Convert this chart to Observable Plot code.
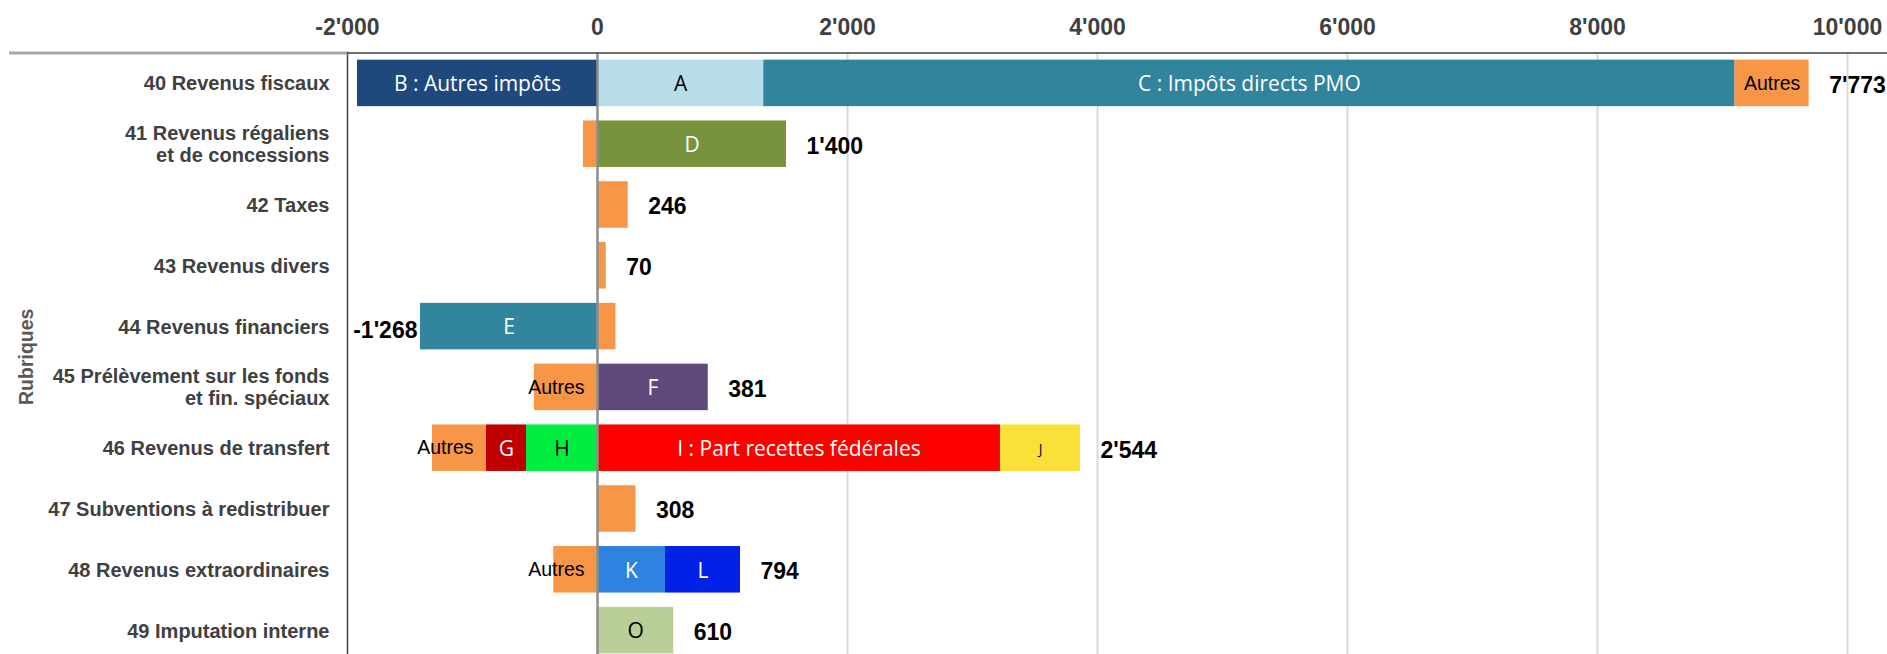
<!DOCTYPE html>
<html>
<head>
<meta charset="utf-8">
<script src="https://cdn.jsdelivr.net/npm/d3@7"></script>
<script src="https://cdn.jsdelivr.net/npm/@observablehq/plot@0.6"></script>
<style>
  html, body { margin: 0; padding: 0; background: #fff; overflow: hidden; }
</style>
</head>
<body>
<div id="chart"></div>
<script>
// ---- Data ----
const rubriques = ["40","41","42","43","44","45","46","47","48","49"];
const rubriqueLabels = [
  "40 Revenus fiscaux",
  "41 Revenus régaliens\net de concessions",
  "42 Taxes",
  "43 Revenus divers",
  "44 Revenus financiers",
  "45 Prélèvement sur les fonds\net fin. spéciaux",
  "46 Revenus de transfert",
  "47 Subventions à redistribuer",
  "48 Revenus extraordinaires",
  "49 Imputation interne"
];
const xTicks = [-2000, 0, 2000, 4000, 6000, 8000, 10000];

const segRubrique = ["40","40","40","40","41","41","42","43","44","44","45","45","46","46","46","46","46","47","48","48","48","49"];
const segKey      = ["B","A","C","Autres","Autres","D","Autres","Autres","E","Autres","Autres","F","H","G","Autres","I","J","Autres","Autres","K","L","O"];
const segValue    = [-1920,1330,7770,593,-112,1512,246,70,-1416,148,-505,886,-568,-320,-432,3224,640,308,-350,544,600,610];
const segLabel    = ["B : Autres impôts","A","C : Impôts directs PMO","Autres","","D","","","E","","Autres","F","H","G","Autres","I : Part recettes fédérales","J","","Autres","K","L","O"];

// ---- Styles ----
const keyColor = {
  B: "#1F497D", A: "#B7DDE8", C: "#31849B", Autres: "#F79646", D: "#77933C",
  E: "#31859C", F: "#604A7B", G: "#C00000", H: "#00EE3F", I: "#FF0000",
  J: "#FBE03A", K: "#2E83E0", L: "#0022E6", O: "#B9CF97"
};
const whiteText = new Set(["B","C","D","E","F","G","I","K","L"]);

// ---- Tables ----
const segs = segKey.map((k, i) => ({rub: segRubrique[i], key: k, value: segValue[i], label: segLabel[i]}));
const totals = rubriques.map(r => {
  const s = segs.filter(d => d.rub === r);
  const pos = d3.sum(s, d => d.value > 0 ? d.value : 0);
  const neg = d3.sum(s, d => d.value < 0 ? d.value : 0);
  const total = d3.sum(s, d => d.value);
  return {rub: r, pos, neg, total};
});

const loc = d3.formatLocale({decimal: ".", thousands: "'", grouping: [3], currency: ["", ""], minus: "-"});
const fmt = loc.format(",d");
const labelOf = Object.fromEntries(rubriques.map((r, i) => [r, rubriqueLabels[i]]));

const W = 1887, H = 654;
const chart = Plot.plot({
  width: W,
  height: H,
  marginLeft: 347,
  marginRight: 0,
  marginTop: 52.5,
  marginBottom: 0,
  style: {fontFamily: "'Liberation Sans', Arial, sans-serif", background: "#fff", overflow: "visible"},
  x: {domain: [-2000, 10320]},
  y: {domain: rubriques, range: [52.5, 660.5], paddingInner: 0.235, paddingOuter: 0.1175, round: false},
  color: {type: "identity"},
  marks: [
    Plot.ruleX(xTicks.filter(t => t > 0), {stroke: "#D9D9D9", strokeWidth: 2}),
    Plot.barX(segs, Plot.stackX({x: "value", y: "rub", fill: d => keyColor[d.key], order: null})),
    Plot.ruleX([0], {stroke: "#8C8C8C", strokeWidth: 2.5}),
    Plot.ruleX([-2000], {stroke: "#404040", strokeWidth: 1.5}),
    Plot.frame({anchor: "top", stroke: "#A6A6A6", strokeWidth: 3, insetLeft: -337, insetRight: W - 347}),
    Plot.frame({anchor: "top", stroke: "#404040", strokeWidth: 1.5}),
    // letter labels inside bars
    Plot.text(segs, Plot.stackX({
      x: "value", y: "rub", order: null, dy: 1,
      text: d => d.key === "Autres" ? "" : d.label,
      fill: d => whiteText.has(d.key) ? "#ffffff" : "#000000",
      fontSize: d => d.key === "J" ? 14 : 21,
      fontFamily: "'Open Sans', sans-serif"
    })),
    // "Autres" centred (positive)
    Plot.text(segs, Plot.stackX({
      x: "value", y: "rub", order: null,
      text: d => d.key === "Autres" && d.value > 0 ? d.label : "",
      fill: "#000", fontSize: 19.5
    })),
    // "Autres" on negative side, anchored to inner end
    Plot.text(segs, Plot.stackX1({
      x: "value", y: "rub", order: null,
      text: d => d.key === "Autres" && d.value < 0 ? d.label : "",
      fill: "#000", fontSize: 19.5, textAnchor: "end", dx: -13
    })),
    // totals
    Plot.text(totals.filter(d => d.total >= 0), {
      x: "pos", y: "rub", text: d => fmt(d.total),
      textAnchor: "start", dx: 20, dy: 2, fontSize: 23, fontWeight: "bold", fill: "#000"
    }),
    Plot.text(totals.filter(d => d.total < 0), {
      x: "neg", y: "rub", text: d => fmt(d.total),
      textAnchor: "end", dx: -3, dy: 4, fontSize: 23, fontWeight: "bold", fill: "#000"
    }),
    Plot.axisX({anchor: "top", ticks: xTicks, tickFormat: fmt, tickSize: 0, tickPadding: 18,
      fontSize: 23, fontWeight: "bold", fill: "#404040", label: null}),
    Plot.axisY({tickSize: 0, tickPadding: 18, tickFormat: d => labelOf[d], fontSize: 20, lineHeight: 1.1,
      fontWeight: "bold", fill: "#404040", label: null}),
    Plot.text(["Rubriques"], {frameAnchor: "left", dx: -315, dy: 3, rotate: -90, lineAnchor: "bottom",
      textAnchor: "middle", fontSize: 19.5, fontWeight: "bold", fill: "#595959"})
  ]
});
document.getElementById("chart").appendChild(chart);
</script>
</body>
</html>
